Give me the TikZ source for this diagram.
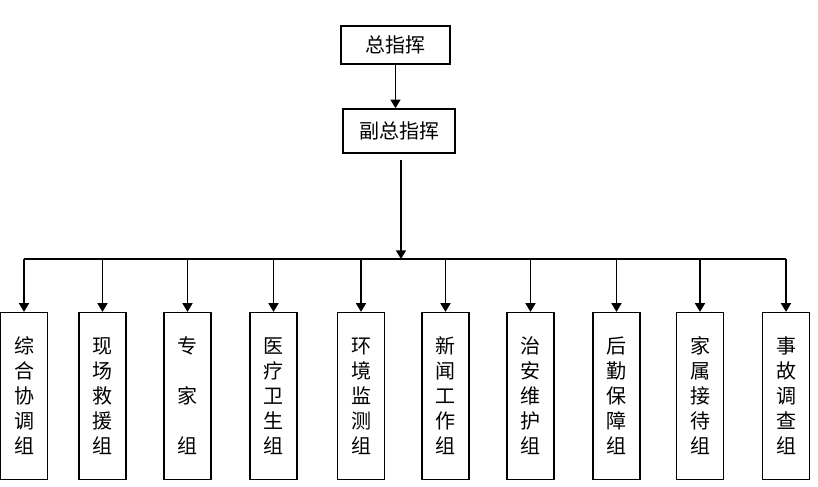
\documentclass[tikz,border=0pt]{standalone}
\usepackage{fontspec}
\newfontfamily\cjk{Noto Sans CJK SC}
\usetikzlibrary{arrows.meta}

\begin{document}
\begin{tikzpicture}[x=0.75pt,y=-0.75pt,line width=1.2pt,
		box/.style={draw,align=center,inner sep=0pt,font=\cjk\fontsize{15pt}{18.75pt}\selectfont},
		group/.style={box,minimum width=35pt,minimum height=125pt},
		arr/.style={-{Triangle[width=7.5pt,length=6.5pt]}}]
		\useasboundingbox (0,0) rectangle (818,486);
		% command boxes
		\node[box,minimum width=82pt,minimum height=28.5pt] (chief) at (395.5,45) {总指挥};
		\node[box,minimum width=84pt,minimum height=33pt] (deputy) at (399,131) {副总指挥};
		\draw[arr] (chief.south) -- (chief.south |- deputy.north);
		% branch point
		\coordinate (hub) at (401,259);
		\draw[arr,shorten <=4.5pt] (deputy.south -| hub) -- (hub);
		% working groups
		\foreach \x/\n/\txt in {24/1/综\\合\\协\\调\\组, 102.5/2/现\\场\\救\\援\\组,
				187.5/3/专\\[18.75pt]家\\[18.75pt]组, 273.5/4/医\\疗\\卫\\生\\组,
				361/5/环\\境\\监\\测\\组, 445.5/6/新\\闻\\工\\作\\组,
				530.5/7/治\\安\\维\\护\\组, 616.5/8/后\\勤\\保\\障\\组,
				700/9/家\\属\\接\\待\\组, 786/10/事\\故\\调\\查\\组}
			\node[group] (g\n) at (\x,396) {\txt};
		% bus line and arrows
		\draw (g1.north |- hub) -- (g10.north |- hub);
		\foreach \n in {1,...,10}
			\draw[arr] (g\n.north |- hub) -- (g\n.north);
	\end{tikzpicture}
\end{document}
